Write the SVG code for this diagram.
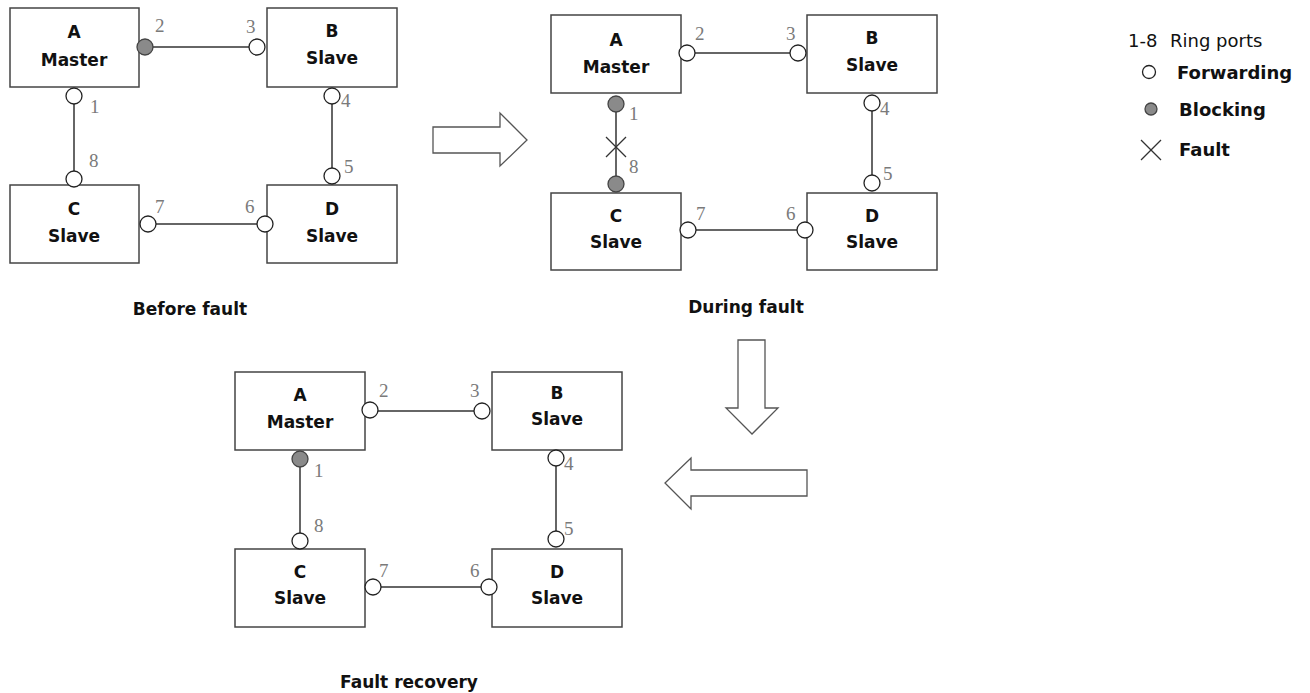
<svg xmlns="http://www.w3.org/2000/svg" width="1310" height="693" viewBox="0 0 1310 693">
<style>
.box{fill:#fff;stroke:#444;stroke-width:1.5}
.lk{stroke:#333;stroke-width:1.5;fill:none}
.fw{fill:#fff;stroke:#222;stroke-width:1.3}
.bl{fill:#8a8a8a;stroke:#444;stroke-width:1.3}
.nt{font-family:"DejaVu Sans",sans-serif;font-weight:bold;font-size:17px;fill:#111;text-anchor:middle}
.pn{font-family:"Liberation Serif",serif;font-size:19px;fill:#7a7a7a}
.ttl{font-family:"DejaVu Sans",sans-serif;font-weight:bold;font-size:17px;fill:#111;text-anchor:middle}
.lg{font-family:"DejaVu Sans",sans-serif;font-size:18px;fill:#111}
.lgb{font-family:"DejaVu Sans",sans-serif;font-weight:bold;font-size:18px;fill:#111}
.ar{fill:#fff;stroke:#555;stroke-width:1.3}
.x{stroke:#333;stroke-width:1.3}
</style>

<!-- Diagram 1: Before fault -->
<g id="d1-A"><rect class="box" x="10" y="8" width="129" height="79"/><text class="nt" x="74" y="38">A</text><text class="nt" x="74" y="66">Master</text></g>
<g id="d1-B"><rect class="box" x="267" y="8" width="130" height="79"/><text class="nt" x="332" y="37">B</text><text class="nt" x="332" y="64">Slave</text></g>
<g id="d1-C"><rect class="box" x="10" y="185" width="129" height="78"/><text class="nt" x="74" y="215">C</text><text class="nt" x="74" y="242">Slave</text></g>
<g id="d1-D"><rect class="box" x="267" y="185" width="130" height="78"/><text class="nt" x="332" y="215">D</text><text class="nt" x="332" y="242">Slave</text></g>
<g id="d1-links">
<line class="lk" x1="152" y1="47" x2="250" y2="47"/>
<line class="lk" x1="74" y1="104" x2="74" y2="171"/>
<line class="lk" x1="332" y1="104" x2="332" y2="168"/>
<line class="lk" x1="156" y1="224" x2="257" y2="224"/>
</g>
<g id="d1-ports">
<circle class="bl" cx="145" cy="47" r="8"/><circle class="fw" cx="257" cy="47" r="8"/>
<circle class="fw" cx="74" cy="96" r="8"/><circle class="fw" cx="74" cy="179" r="8"/>
<circle class="fw" cx="332" cy="96" r="8"/><circle class="fw" cx="332" cy="176" r="8"/>
<circle class="fw" cx="148" cy="224" r="8"/><circle class="fw" cx="265" cy="224" r="8"/>
<text class="pn" x="155" y="32">2</text><text class="pn" x="246" y="33">3</text>
<text class="pn" x="90" y="113">1</text><text class="pn" x="89" y="167">8</text>
<text class="pn" x="341" y="107">4</text><text class="pn" x="344" y="173">5</text>
<text class="pn" x="155" y="213">7</text><text class="pn" x="245" y="213">6</text>
</g>
<text class="ttl" x="190" y="315">Before fault</text>

<!-- Arrow right -->
<g id="arrow-right"><polygon class="ar" points="433,127 500,127 500,113 527,140 500,166 500,153 433,153"/></g>

<!-- Diagram 2: During fault -->
<g id="d2-A"><rect class="box" x="551" y="15" width="130" height="78"/><text class="nt" x="616" y="46">A</text><text class="nt" x="616" y="73">Master</text></g>
<g id="d2-B"><rect class="box" x="807" y="15" width="130" height="78"/><text class="nt" x="872" y="44">B</text><text class="nt" x="872" y="71">Slave</text></g>
<g id="d2-C"><rect class="box" x="551" y="193" width="130" height="77"/><text class="nt" x="616" y="222">C</text><text class="nt" x="616" y="248">Slave</text></g>
<g id="d2-D"><rect class="box" x="807" y="193" width="130" height="77"/><text class="nt" x="872" y="222">D</text><text class="nt" x="872" y="248">Slave</text></g>
<g id="d2-links">
<line class="lk" x1="695" y1="53" x2="790" y2="53"/>
<line class="lk" x1="616" y1="112" x2="616" y2="176"/>
<line class="lk" x1="872" y1="111" x2="872" y2="175"/>
<line class="lk" x1="696" y1="230" x2="797" y2="230"/>
</g>
<g id="d2-ports">
<circle class="fw" cx="687" cy="53" r="8"/><circle class="fw" cx="798" cy="53" r="8"/>
<circle class="bl" cx="616" cy="104" r="8"/><circle class="bl" cx="616" cy="184" r="8"/>
<circle class="fw" cx="872" cy="103" r="8"/><circle class="fw" cx="872" cy="183" r="8"/>
<circle class="fw" cx="688" cy="230" r="8"/><circle class="fw" cx="805" cy="230" r="8"/>
<text class="pn" x="695" y="40">2</text><text class="pn" x="786" y="40">3</text>
<text class="pn" x="629" y="120">1</text><text class="pn" x="629" y="173">8</text>
<text class="pn" x="880" y="115">4</text><text class="pn" x="883" y="180">5</text>
<text class="pn" x="696" y="220">7</text><text class="pn" x="786" y="220">6</text>
</g>
<g id="d2-fault"><line class="x" x1="606" y1="137" x2="626" y2="157"/><line class="x" x1="626" y1="137" x2="606" y2="157"/></g>
<text class="ttl" x="746" y="313">During fault</text>

<!-- Arrow down -->
<g id="arrow-down"><polygon class="ar" points="738,340 765,340 765,408 778,408 752,434 726,408 738,408"/></g>
<!-- Arrow left -->
<g id="arrow-left"><polygon class="ar" points="807,470 691,470 691,458 665,483 691,509 691,496 807,496"/></g>

<!-- Diagram 3: Fault recovery -->
<g id="d3-A"><rect class="box" x="235" y="372" width="130" height="78"/><text class="nt" x="300" y="401">A</text><text class="nt" x="300" y="428">Master</text></g>
<g id="d3-B"><rect class="box" x="492" y="372" width="130" height="78"/><text class="nt" x="557" y="399">B</text><text class="nt" x="557" y="425">Slave</text></g>
<g id="d3-C"><rect class="box" x="235" y="549" width="130" height="78"/><text class="nt" x="300" y="578">C</text><text class="nt" x="300" y="604">Slave</text></g>
<g id="d3-D"><rect class="box" x="492" y="549" width="130" height="78"/><text class="nt" x="557" y="578">D</text><text class="nt" x="557" y="604">Slave</text></g>
<g id="d3-links">
<line class="lk" x1="378" y1="411" x2="474" y2="411"/>
<line class="lk" x1="300" y1="467" x2="300" y2="533"/>
<line class="lk" x1="556" y1="466" x2="556" y2="531"/>
<line class="lk" x1="381" y1="587" x2="481" y2="587"/>
</g>
<g id="d3-ports">
<circle class="fw" cx="370" cy="410" r="8"/><circle class="fw" cx="482" cy="411" r="8"/>
<circle class="bl" cx="300" cy="459" r="8"/><circle class="fw" cx="300" cy="541" r="8"/>
<circle class="fw" cx="556" cy="458" r="8"/><circle class="fw" cx="556" cy="539" r="8"/>
<circle class="fw" cx="373" cy="587" r="8"/><circle class="fw" cx="489" cy="587" r="8"/>
<text class="pn" x="379" y="397">2</text><text class="pn" x="470" y="397">3</text>
<text class="pn" x="314" y="477">1</text><text class="pn" x="314" y="532">8</text>
<text class="pn" x="564" y="470">4</text><text class="pn" x="564" y="535">5</text>
<text class="pn" x="379" y="577">7</text><text class="pn" x="470" y="577">6</text>
</g>
<text class="ttl" x="409" y="688">Fault recovery</text>

<!-- Legend -->
<g id="legend">
<text class="lg" x="1128" y="47">1-8</text><text class="lg" x="1170" y="47">Ring ports</text>
<circle class="fw" cx="1149" cy="72" r="6.5"/><text class="lgb" x="1177" y="79">Forwarding</text>
<circle class="bl" cx="1151" cy="109" r="6"/><text class="lgb" x="1179" y="116">Blocking</text>
<line class="x" x1="1141" y1="140" x2="1161" y2="160"/><line class="x" x1="1161" y1="140" x2="1141" y2="160"/>
<text class="lgb" x="1179" y="156">Fault</text>
</g>
</svg>
